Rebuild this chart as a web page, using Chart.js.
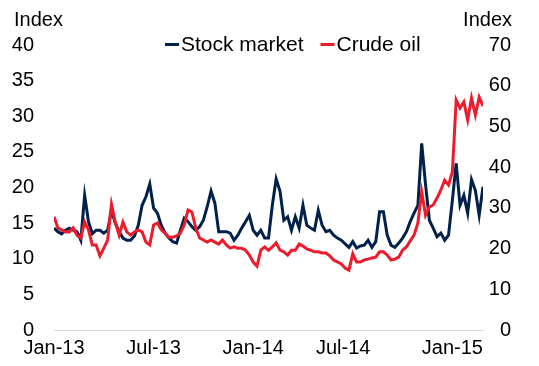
<!DOCTYPE html>
<html>
<head>
<meta charset="utf-8">
<script src="https://cdn.jsdelivr.net/npm/chart.js@4"></script>
<style>
  html, body { margin: 0; padding: 0; background: #fff; }
  #wrap { width: 539px; height: 366px; }
</style>
</head>
<body>
<div id="wrap"><canvas id="chart" width="539" height="366"></canvas></div>
<script>
// weekly readings, first week of Jan-13 to mid Feb-15
const stockMarket = [
  14.3, 13.8, 13.5, 14.0, 14.3, 14.0, 13.8, 12.6, 18.9, 15.2,
  13.5, 14.0, 14.0, 13.6, 14.0, 16.8, 15.0, 13.8, 12.9, 12.6,
  12.6, 13.2, 14.7, 17.5, 18.7, 20.5, 17.1, 16.4, 14.7, 13.6,
  12.9, 12.4, 12.2, 14.0, 15.7, 15.2, 14.5, 14.0, 14.5, 15.4,
  17.3, 19.5, 17.8, 13.8, 13.8, 13.8, 13.6, 12.6, 13.3, 14.3,
  15.2, 16.1, 14.0, 13.3, 14.0, 12.9, 12.9, 17.5, 21.2, 19.5,
  15.4, 15.9, 14.0, 15.9, 14.3, 17.5, 14.7, 14.3, 14.0, 16.8,
  14.7, 13.8, 14.0, 13.3, 12.9, 12.6, 12.1, 11.6, 12.4, 11.5,
  11.8, 11.9, 12.6, 11.6, 12.4, 16.6, 16.6, 13.3, 11.9, 11.6,
  12.2, 12.9, 13.8, 15.2, 16.4, 17.5, 26.2, 20.4, 15.4, 14.3,
  13.1, 13.6, 12.6, 13.3, 18.2, 23.4, 17.5, 18.9, 16.4, 21.1,
  19.6, 16.1, 20.1
]
const crudeOil = [
  27.8, 25.1, 24.6, 24.1, 24.1, 25.1, 23.3, 22.6, 26.5, 24.6,
  20.9, 20.9, 18.2, 20.1, 22.1, 30.9, 26.5, 23.3, 26.5, 24.1,
  23.3, 24.1, 24.6, 24.1, 21.6, 20.9, 25.8, 26.3, 24.6, 23.8,
  22.8, 22.8, 23.1, 23.8, 25.8, 29.5, 29.0, 25.1, 22.6, 22.1,
  21.6, 22.1, 21.6, 21.1, 22.1, 20.9, 20.1, 20.4, 20.1, 20.1,
  19.6, 18.4, 16.7, 15.7, 19.6, 20.4, 19.6, 20.4, 21.4, 19.6,
  19.2, 18.4, 19.6, 19.6, 21.1, 20.6, 19.9, 19.6, 19.2, 19.2,
  18.9, 18.9, 18.2, 17.2, 16.7, 16.2, 15.2, 14.7, 18.7, 16.7,
  16.7, 17.2, 17.4, 17.7, 17.9, 19.2, 19.2, 18.4, 17.2, 17.4,
  17.9, 19.6, 20.4, 21.9, 23.3, 26.3, 33.9, 28.2, 30.2, 30.7,
  32.4, 34.4, 36.8, 35.6, 38.8, 56.5, 54.5, 56.0, 51.6, 57.0,
  52.8, 57.2, 55.0
]
const tickWeeks = [0, 26, 52, 75.5, 104]
const tickLabels = ['Jan-13', 'Jul-13', 'Jan-14', 'Jul-14', 'Jan-15']

const navy = '#00214a'
const red = '#ec1c2d'
const font = '"Liberation Sans", Arial, sans-serif'

const toPoints = (values) => values.map((v, i) => ({ x: i, y: v }))

// axis titles and the legend row drawn on top of the plot
const headerPlugin = {
  id: 'header',
  afterDraw(chart) {
    const ctx = chart.ctx
    ctx.save()
    ctx.font = '20px ' + font
    ctx.fillStyle = '#000'
    ctx.textBaseline = 'middle'
    ctx.textAlign = 'left'
    ctx.fillText('Index', 14, 20)
    ctx.textAlign = 'right'
    ctx.fillText('Index', 512, 20)

    ctx.font = '21px ' + font
    ctx.textAlign = 'left'
    let x = 165
    chart.data.datasets.forEach((ds) => {
      ctx.fillStyle = ds.borderColor
      ctx.fillRect(x, 43, 14, 3)
      ctx.fillStyle = '#000'
      ctx.fillText(ds.label, x + 16, 45)
      x += 16 + ctx.measureText(ds.label).width + 17
    })
    ctx.restore()
  },
}

new Chart(document.getElementById('chart'), {
  type: 'line',
  data: {
    datasets: [
      {
        label: 'Stock market',
        data: toPoints(stockMarket),
        borderColor: navy,
        backgroundColor: navy,
        borderWidth: 3,
        pointRadius: 0,
        tension: 0,
        yAxisID: 'y',
        order: 1,
      },
      {
        label: 'Crude oil',
        data: toPoints(crudeOil),
        borderColor: red,
        backgroundColor: red,
        borderWidth: 3,
        pointRadius: 0,
        tension: 0,
        yAxisID: 'y2',
        order: 0,
      },
    ],
  },
  options: {
    responsive: false,
    animation: false,
    layout: {
      padding: { top: 45, right: 28, bottom: 0, left: 0 },
    },
    plugins: {
      legend: { display: false },
      tooltip: { enabled: false },
    },
    scales: {
      x: {
        type: 'linear',
        min: 0,
        max: stockMarket.length - 1,
        grid: { display: false, drawTicks: false },
        border: { display: true, color: '#d9d9d9', width: 1 },
        afterBuildTicks: (scale) => {
          scale.ticks = tickWeeks.map((w) => ({ value: w }))
        },
        afterFit: (scale) => {
          scale.height = 36
        },
        ticks: {
          color: '#000',
          font: { family: font, size: 20 },
          padding: 6,
          maxRotation: 0,
          autoSkip: false,
          callback: (value) => tickLabels[tickWeeks.indexOf(value)],
        },
      },
      y: {
        position: 'left',
        min: 0,
        max: 40,
        grid: { display: false, drawTicks: false },
        border: { display: false },
        afterFit: (scale) => {
          scale.width = 54
        },
        ticks: {
          stepSize: 5,
          color: '#000',
          padding: 20,
          font: { family: font, size: 20 },
        },
      },
      y2: {
        position: 'right',
        min: 0,
        max: 70,
        grid: { display: false, drawTicks: false },
        border: { display: false },
        afterFit: (scale) => {
          scale.width = 28
        },
        ticks: {
          stepSize: 10,
          color: '#000',
          crossAlign: 'far',
          font: { family: font, size: 20 },
        },
      },
    },
  },
  plugins: [headerPlugin],
})
</script>
</body>
</html>
